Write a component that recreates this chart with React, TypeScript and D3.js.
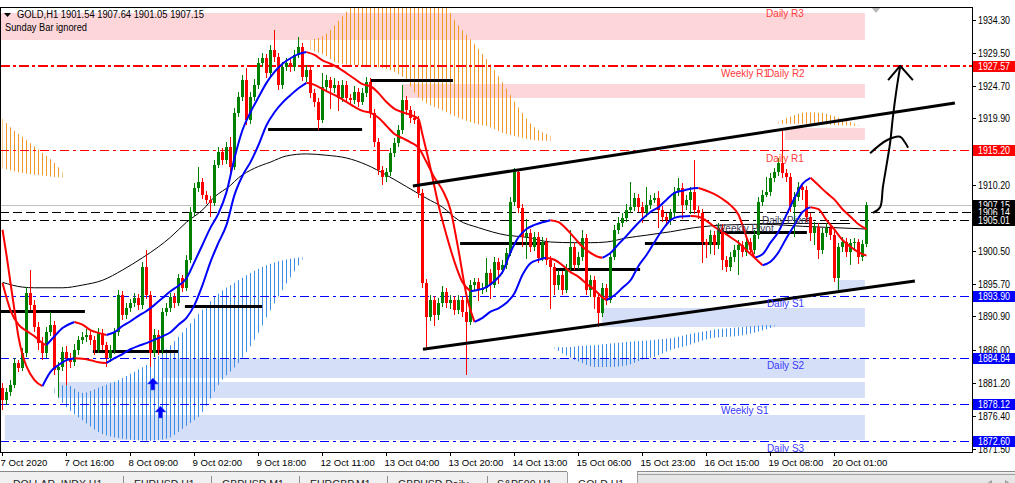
import React from "react";
import * as d3 from "d3";

// ---------------- data ----------------
const firstOpen = 1880.4;
const closes = [
  1878.7, 1879.8, 1880.9, 1884.1, 1883.4, 1885.5, 1894.3, 1892.6, 1889.4, 1887.0,
  1885.5, 1888.6, 1889.6, 1883.1, 1883.5, 1885.7, 1884.8, 1884.2, 1886.0, 1887.5,
  1887.9, 1888.2, 1887.5, 1886.0, 1888.5, 1886.7, 1884.8, 1886.0, 1888.6, 1894.0,
  1891.1, 1892.1, 1892.9, 1893.6, 1892.6, 1898.1, 1894.0, 1885.5, 1888.2, 1886.0,
  1891.5, 1892.1, 1893.7, 1892.9, 1896.5, 1895.1, 1899.2, 1906.2, 1909.7, 1910.6,
  1908.7, 1908.0, 1907.5, 1913.1, 1915.0, 1913.8, 1915.7, 1912.8, 1920.7, 1923.0,
  1925.5, 1919.7, 1923.0, 1924.8, 1928.0, 1928.7, 1926.5, 1929.9, 1928.9, 1924.8,
  1927.4, 1928.0, 1927.4, 1929.2, 1930.4, 1926.0, 1927.0, 1923.6, 1922.3, 1919.7,
  1924.5, 1925.5, 1924.3, 1924.8, 1922.9, 1924.8, 1922.9, 1922.6, 1923.8, 1922.3,
  1923.6, 1925.2, 1920.7, 1916.4, 1912.3, 1911.3, 1912.0, 1914.8, 1916.3, 1918.2,
  1922.6, 1921.1, 1920.0, 1919.7, 1909.0, 1895.8, 1890.8, 1893.3, 1891.1, 1892.9,
  1894.5, 1892.9, 1893.3, 1891.8, 1893.3, 1891.5, 1890.1, 1895.5, 1895.9, 1894.8,
  1895.1, 1897.3, 1895.5, 1898.9, 1897.7, 1898.4, 1900.2, 1907.7, 1912.0, 1906.8,
  1902.5, 1903.1, 1901.1, 1902.5, 1899.5, 1901.8, 1899.2, 1898.1, 1895.5, 1897.0,
  1894.8, 1898.0, 1901.1, 1898.4, 1899.6, 1902.4, 1894.8, 1896.2, 1893.7, 1891.4,
  1895.1, 1893.3, 1899.6, 1903.6, 1904.6, 1905.3, 1906.5, 1906.9, 1908.2, 1906.9,
  1906.0, 1907.2, 1908.0, 1908.2, 1906.5, 1905.5, 1905.0, 1906.0, 1909.1, 1909.7,
  1907.2, 1908.0, 1909.1, 1906.5, 1906.0, 1901.8, 1901.4, 1902.8, 1901.4, 1903.9,
  1899.2, 1898.1, 1899.6, 1900.6, 1901.4, 1900.3, 1901.8, 1900.6, 1902.8, 1907.7,
  1908.7, 1909.1, 1911.2, 1912.0, 1913.4, 1911.9, 1911.3, 1906.9, 1908.4, 1909.9,
  1909.4, 1905.5, 1903.1, 1904.0, 1900.6, 1903.1, 1903.9, 1902.8, 1896.5, 1901.0,
  1901.8, 1900.3, 1901.7, 1901.8, 1899.6, 1901.54, 1907.15,
];
const highs = [
  1881.2, 1880.4, 1881.6, 1884.8, 1884.6, 1886.3, 1895.2, 1897.7, 1893.3, 1890.1,
  1887.9, 1889.3, 1891.5, 1890.3, 1884.3, 1886.5, 1886.6, 1885.6, 1886.8, 1888.1,
  1888.6, 1889.0, 1888.8, 1888.0, 1889.2, 1889.0, 1887.2, 1886.7, 1889.2, 1894.8,
  1894.6, 1892.8, 1893.5, 1894.3, 1894.2, 1898.9, 1900.6, 1894.6, 1889.0, 1888.9,
  1892.2, 1892.8, 1894.3, 1894.3, 1897.1, 1897.0, 1899.9, 1906.9, 1910.4, 1912.8,
  1911.2, 1909.3, 1908.6, 1913.8, 1915.7, 1915.6, 1916.4, 1917.2, 1921.4, 1923.7,
  1926.2, 1927.3, 1923.7, 1925.6, 1928.7, 1929.4, 1929.3, 1930.6, 1932.8, 1929.5,
  1928.1, 1928.7, 1928.6, 1929.9, 1931.8, 1930.9, 1927.7, 1927.6, 1924.2, 1922.9,
  1926.5, 1926.2, 1926.0, 1925.8, 1925.4, 1925.5, 1925.3, 1923.5, 1924.6, 1924.3,
  1924.3, 1925.9, 1925.8, 1921.3, 1917.0, 1913.0, 1912.7, 1915.5, 1917.0, 1918.9,
  1924.8, 1923.2, 1921.7, 1921.0, 1920.3, 1909.5, 1896.4, 1894.0, 1893.9, 1893.6,
  1895.4, 1895.1, 1894.0, 1893.9, 1894.0, 1893.9, 1894.0, 1896.2, 1896.6, 1896.5,
  1895.8, 1899.4, 1897.9, 1899.6, 1899.5, 1899.2, 1900.9, 1908.4, 1912.6, 1912.4,
  1907.4, 1905.2, 1903.7, 1903.2, 1903.2, 1902.6, 1902.4, 1899.8, 1898.7, 1897.7,
  1897.6, 1898.6, 1903.6, 1901.7, 1900.3, 1903.5, 1903.0, 1896.9, 1896.8, 1894.3,
  1895.8, 1895.7, 1900.3, 1904.3, 1905.4, 1906.0, 1907.3, 1910.6, 1909.0, 1908.8,
  1907.6, 1909.8, 1908.7, 1909.0, 1909.2, 1907.1, 1906.0, 1906.7, 1909.8, 1911.2,
  1910.4, 1908.7, 1909.8, 1913.8, 1907.0, 1906.6, 1902.3, 1903.5, 1903.4, 1904.6,
  1904.5, 1899.8, 1900.3, 1901.3, 1902.1, 1902.0, 1902.5, 1902.4, 1903.5, 1908.4,
  1909.4, 1911.3, 1911.9, 1912.7, 1914.1, 1918.2, 1912.5, 1911.9, 1909.1, 1910.6,
  1910.5, 1910.0, 1906.1, 1904.7, 1904.6, 1903.8, 1904.6, 1904.5, 1903.4, 1901.7,
  1902.5, 1902.4, 1902.3, 1902.4, 1902.3, 1902.1, 1907.64,
];
const lows = [
  1877.2, 1878.0, 1879.3, 1880.5, 1882.7, 1882.9, 1885.0, 1891.8, 1888.6, 1886.0,
  1884.6, 1884.8, 1888.0, 1882.4, 1879.1, 1882.9, 1880.9, 1883.4, 1883.6, 1885.3,
  1886.9, 1887.2, 1886.7, 1885.2, 1885.6, 1886.0, 1883.5, 1884.2, 1885.4, 1888.0,
  1890.4, 1890.5, 1891.6, 1892.3, 1891.9, 1892.0, 1893.5, 1883.5, 1884.9, 1885.3,
  1885.4, 1890.9, 1891.6, 1892.2, 1892.4, 1894.5, 1894.7, 1898.7, 1905.6, 1909.1,
  1908.1, 1907.3, 1905.5, 1907.0, 1912.6, 1913.1, 1913.2, 1912.1, 1912.3, 1920.1,
  1922.5, 1918.9, 1919.1, 1922.4, 1924.2, 1927.4, 1925.8, 1926.0, 1928.2, 1924.0,
  1924.2, 1926.8, 1926.7, 1926.9, 1928.7, 1925.3, 1925.2, 1922.9, 1921.6, 1918.2,
  1919.2, 1923.9, 1921.3, 1923.6, 1921.0, 1922.3, 1922.2, 1921.9, 1922.0, 1921.6,
  1921.8, 1923.0, 1920.0, 1915.7, 1911.6, 1910.2, 1910.6, 1911.4, 1914.2, 1915.7,
  1917.6, 1920.4, 1919.2, 1919.1, 1908.3, 1895.0, 1886.3, 1890.2, 1889.5, 1890.4,
  1892.3, 1892.2, 1892.0, 1891.1, 1891.2, 1890.8, 1882.3, 1889.6, 1894.6, 1893.1,
  1894.2, 1894.5, 1893.4, 1895.0, 1895.6, 1897.1, 1897.8, 1899.7, 1907.1, 1906.1,
  1901.0, 1899.3, 1900.4, 1900.5, 1898.8, 1899.0, 1898.5, 1892.0, 1894.0, 1894.8,
  1894.1, 1894.3, 1897.5, 1897.7, 1897.9, 1899.0, 1894.1, 1893.7, 1892.0, 1889.4,
  1890.8, 1892.6, 1892.8, 1899.1, 1902.9, 1904.0, 1904.8, 1906.0, 1906.3, 1906.2,
  1904.6, 1905.4, 1906.6, 1907.5, 1903.9, 1904.8, 1904.2, 1904.3, 1905.4, 1908.5,
  1905.2, 1906.5, 1905.9, 1905.9, 1905.2, 1898.7, 1899.4, 1900.1, 1899.9, 1900.8,
  1897.7, 1897.4, 1897.5, 1898.9, 1897.0, 1899.6, 1899.7, 1899.9, 1900.0, 1902.2,
  1907.1, 1908.4, 1908.6, 1910.6, 1911.4, 1911.2, 1910.6, 1906.2, 1902.5, 1907.8,
  1908.0, 1904.8, 1901.9, 1901.4, 1899.3, 1900.0, 1902.5, 1902.1, 1896.0, 1894.8,
  1900.3, 1899.6, 1898.4, 1900.5, 1898.6, 1899.0, 1901.05,
];

const timeLabelBars = [0, 16, 32, 48, 64, 80, 96, 112, 128, 144, 160, 176, 192, 208];
const timeLabels = [
  "7 Oct 2020", "7 Oct 16:00", "8 Oct 09:00", "9 Oct 02:00", "9 Oct 18:00", "12 Oct 11:00",
  "13 Oct 04:00", "13 Oct 20:00", "14 Oct 13:00", "15 Oct 06:00", "15 Oct 23:00",
  "16 Oct 15:00", "19 Oct 08:00", "20 Oct 01:00",
];
const priceTicks = [1934.3, 1929.5, 1924.7, 1919.9, 1910.2, 1900.5, 1895.7, 1890.9, 1886.0, 1881.2, 1876.4, 1871.5];

// two slope-coloured moving averages [bar, price]
const maFast = [
  [0, 1895.8], [2, 1891.8], [4, 1889.7], [6, 1888.8], [8, 1888.0], [10, 1887.0], [11, 1886.7], [13, 1888.0],
  [15, 1889.2], [18, 1890.1], [20, 1889.7], [22, 1888.9], [24, 1888.5], [26, 1888.2], [28, 1888.6], [30, 1889.5],
  [32, 1890.2], [34, 1891.0], [36, 1891.7], [38, 1892.6], [40, 1893.6], [42, 1894.6], [44, 1895.4], [46, 1896.5],
  [48, 1898.9], [50, 1901.4], [52, 1903.9], [54, 1906.0], [56, 1909.1], [58, 1914.1], [60, 1918.2], [62, 1920.8],
  [64, 1923.0], [66, 1925.1], [68, 1926.7], [70, 1927.9], [72, 1928.7], [74, 1929.3], [76, 1929.6], [78, 1929.2],
  [80, 1928.4], [82, 1927.9], [84, 1927.3], [86, 1926.5], [88, 1925.7], [90, 1924.9], [92, 1924.6], [94, 1923.6],
  [96, 1922.3], [98, 1921.3], [100, 1920.8], [102, 1920.4], [104, 1919.8], [105, 1917.5], [107, 1912.6],
  [109, 1907.2], [111, 1902.8], [113, 1898.9], [115, 1895.9], [117, 1894.6], [119, 1894.8], [121, 1895.2],
  [123, 1896.1], [125, 1897.4], [127, 1900.3], [129, 1902.5], [131, 1903.7], [133, 1904.3], [135, 1904.7],
  [137, 1905.0], [139, 1904.7], [141, 1903.7], [143, 1902.4], [145, 1901.1], [147, 1900.2], [149, 1899.6],
  [150, 1899.5], [152, 1900.2], [154, 1901.5], [156, 1902.7], [158, 1904.0], [160, 1905.2], [162, 1906.2],
  [164, 1906.9], [166, 1908.0], [168, 1909.0], [170, 1909.3], [172, 1909.6], [174, 1909.7], [176, 1909.3],
  [178, 1908.8], [180, 1908.1], [182, 1907.2], [184, 1905.8], [186, 1902.5], [188, 1899.5], [190, 1900.0],
  [192, 1901.7], [194, 1903.3], [196, 1905.8], [198, 1908.2], [200, 1910.3], [202, 1911.2], [204, 1910.1],
  [206, 1909.0], [208, 1908.0], [210, 1906.6], [212, 1905.5], [214, 1904.4], [216, 1903.7],
];
const maSlow = [
  [0, 1903.6], [1, 1899.9], [2, 1895.8], [3, 1891.8], [4, 1887.9], [5, 1885.3], [6, 1883.6], [8, 1881.6],
  [10, 1880.7], [12, 1882.8], [14, 1883.8], [16, 1884.5], [18, 1884.8], [20, 1884.7], [22, 1884.5], [24, 1884.2],
  [26, 1884.1], [28, 1884.8], [30, 1885.4], [32, 1886.1], [34, 1886.6], [36, 1887.0], [38, 1887.5], [40, 1888.0],
  [42, 1888.6], [44, 1889.7], [46, 1890.7], [48, 1892.6], [50, 1895.5], [52, 1898.9], [54, 1901.7], [56, 1904.3],
  [58, 1908.7], [60, 1911.5], [62, 1913.5], [64, 1916.0], [66, 1918.9], [68, 1920.8], [70, 1922.2], [72, 1923.3],
  [74, 1924.3], [76, 1925.1], [78, 1924.8], [80, 1924.2], [82, 1923.6], [84, 1923.0], [86, 1922.3], [88, 1921.6],
  [90, 1921.0], [92, 1920.7], [94, 1920.0], [96, 1918.8], [98, 1917.6], [100, 1917.0], [102, 1916.4],
  [104, 1915.6], [106, 1913.5], [108, 1911.2], [110, 1909.4], [112, 1906.5], [114, 1900.6], [116, 1894.0],
  [118, 1890.1], [120, 1890.7], [122, 1891.6], [124, 1892.1], [126, 1892.9], [128, 1894.3], [130, 1897.0],
  [132, 1898.7], [134, 1899.2], [136, 1899.5], [138, 1899.2], [140, 1898.4], [142, 1897.4], [144, 1896.7],
  [146, 1895.7], [148, 1894.8], [150, 1893.7], [151, 1893.3], [153, 1894.0], [155, 1895.1], [157, 1896.2],
  [159, 1898.3], [161, 1899.9], [163, 1901.8], [165, 1903.6], [167, 1905.0], [169, 1905.5], [172, 1905.6],
  [174, 1905.5], [176, 1904.9], [178, 1904.0], [180, 1903.3], [182, 1902.5], [184, 1901.7], [186, 1900.6],
  [188, 1899.5], [190, 1898.4], [192, 1898.9], [194, 1900.3], [196, 1902.4], [198, 1904.3], [200, 1906.2],
  [202, 1906.9], [204, 1906.6], [206, 1905.0], [208, 1903.6], [210, 1902.1], [212, 1901.1], [214, 1900.3],
  [216, 1899.8],
];
const maLong = [
  [0, 1895.9], [5, 1895.2], [8, 1895.1], [15, 1895.1], [20, 1895.5], [25, 1896.2], [30, 1897.7], [35, 1899.5],
  [39, 1901.1], [42, 1902.5], [46, 1904.7], [50, 1906.5], [53, 1908.4], [57, 1910.1], [59, 1911.2], [63, 1912.6],
  [67, 1913.5], [71, 1914.4], [76, 1914.7], [81, 1914.5], [86, 1914.1], [91, 1913.1], [96, 1911.6], [101, 1909.9],
  [106, 1908.2], [110, 1906.9], [114, 1905.0], [119, 1903.9], [126, 1902.8], [131, 1902.5], [137, 1901.8],
  [143, 1901.7], [147, 1901.7], [151, 1901.8], [156, 1902.4], [161, 1902.8], [167, 1903.3], [173, 1903.9],
  [181, 1904.3], [190, 1904.4], [200, 1904.1], [216, 1903.7],
];

// hatched clouds [bar, top price, bottom price]
const cloudOrange1 = [[0, 1919.9, 1912.6], [2, 1918.6, 1912.3], [5, 1917.2, 1911.9], [9, 1915.3, 1911.6], [13, 1913.4, 1911.3], [15, 1912.0, 1911.2]];
const cloudOrange2 = [
  [77, 1931.4, 1929.9], [81, 1932.3, 1929.0], [83, 1933.5, 1928.2], [86, 1935.5, 1927.8], [88, 1936.4, 1927.7],
  [94, 1936.4, 1927.4], [100, 1936.4, 1926.0], [104, 1936.4, 1923.0], [110, 1936.4, 1921.1], [114, 1933.5, 1920.0],
  [118, 1930.8, 1919.2], [122, 1927.8, 1918.6], [125, 1925.2, 1917.8], [129, 1921.5, 1917.2], [133, 1918.6, 1916.7],
  [137, 1917.4, 1916.6],
];
const cloudOrange3 = [[194, 1919.4, 1919.1], [198, 1920.4, 1919.1], [201, 1920.8, 1919.1], [205, 1920.7, 1919.0], [209, 1920.0, 1918.9], [214, 1918.9, 1918.8]];
const cloudBlue1 = [
  [13, 1880.4, 1879.7], [16, 1880.9, 1877.6], [20, 1879.7, 1875.7], [24.5, 1880.6, 1873.8], [29, 1881.6, 1873.1],
  [33, 1882.8, 1872.8], [37, 1884.2, 1872.7], [41.5, 1886.4, 1873.1], [45.5, 1888.9, 1874.7], [49.5, 1891.6, 1876.5],
  [54.5, 1894.5, 1881.3], [59, 1896.2, 1884.1], [63, 1897.6, 1887.5], [67, 1898.6, 1891.8], [71.5, 1899.3, 1896.2],
  [75, 1899.6, 1899.2],
];
const cloudBlue2 = [
  [138, 1886.4, 1886.2], [141.5, 1886.4, 1885.0], [144.5, 1886.6, 1884.2], [148, 1886.7, 1883.5], [151.5, 1886.9, 1883.5],
  [156.5, 1887.2, 1883.8], [159.5, 1887.3, 1884.5], [163, 1887.5, 1885.0], [167, 1887.7, 1886.0], [171.5, 1888.3, 1886.7],
  [177, 1888.9, 1887.7], [185.5, 1889.4, 1888.2], [193, 1889.7, 1889.4],
];

// pivot zones [start bar, end bar, top, bottom, kind]
const zones = [
  [-1, 215.6, 1935.3, 1931.4, "r"], [100.0, 215.6, 1924.9, 1922.9, "r"], [195.6, 215.6, 1918.5, 1916.7, "r"],
  [208.6, 215.6, 1896.2, 1894.8, "s"], [149.9, 215.6, 1892.1, 1889.4, "s"], [39.9, 215.6, 1884.8, 1881.9, "s"],
  [13.9, 215.6, 1881.3, 1879.0, "s"], [0.6, 215.6, 1876.5, 1872.8, "s"],
];
const pivotLevels = [1927.57, 1915.20, 1906.14, 1905.01, 1893.90, 1884.84, 1878.12, 1872.60];
const pivotKinds = ["r2", "r", "dash", "dashdot", "s", "s", "s", "s"];
const bidPrice = 1907.15;
const pivotTexts = [
  [190.9, 1934.74, "Daily R3", "r"], [179.6, 1925.96, "Weekly R1", "r"], [191.1, 1925.96, "Daily R2", "r"],
  [190.9, 1913.5, "Daily R1", "r"], [189.9, 1904.4, "Daily Pivot", "p"], [178.4, 1903.26, "Weekly Pivot", "p"],
  [191.1, 1892.3, "Daily S1", "s"], [191.1, 1883.2, "Daily S2", "s"], [179.6, 1876.6, "Weekly S1", "s"],
  [191.1, 1871.05, "Daily S3", "s"],
];
const boxLevels = [1927.57, 1915.20, 1907.15, 1906.14, 1905.01, 1893.90, 1884.84, 1878.12, 1872.60];
const boxKinds = ["r", "r", "k", "k", "k", "s", "s", "s", "s"];

// drawn objects
const srSegments = [
  [-0.6, 20.6, 1891.7, 3], [22.6, 43.9, 1885.8, 3], [45.6, 64.9, 1892.4, 3], [66.4, 89.9, 1918.3, 3],
  [91.9, 112.6, 1925.5, 3], [114.4, 135.6, 1901.6, 3], [137.6, 159.4, 1897.9, 3], [160.6, 179.4, 1901.6, 3],
  [178.6, 201.1, 1903.3, 3], [189.4, 211.9, 1904.6, 1],
];
const trendLines = [
  [[102.6, 1910.0], [238.1, 1922.15]],
  [[105.1, 1886.1], [228.1, 1896.1]],
];
const sketchUp = [[217.6, 1906.05], [219.4, 1906.9], [220.1, 1909.85], [221.9, 1916.3], [222.6, 1920.1], [223.6, 1924.5], [224.4, 1927.4]];
const sketchHead = [[221.4, 1925.5], [224.4, 1927.6], [227.6, 1925.5]];
const sketchHook = [[216.9, 1914.8], [221.1, 1916.7], [224.4, 1917.2], [225.6, 1916.4], [226.4, 1915.6]];
const signalArrows = [[37.6, 1881.9], [39.5, 1877.8]];

const headerText = "GOLD,H1  1901.54 1907.64 1901.05 1907.15";
const tabLabels = ["DOLLAR_INDX,H1", "EURUSD,H1", "GBPUSD,M1", "EURGBP,M1", "GBPUSD,Daily", "S&P500,H1", "GOLD,H1"];

// ---------------- layout ----------------
const W = 1015;
const H = 483;
const PR = 972; // plot right (axis line)
const PT = 7;
const PB = 452;
const FONT = "'Liberation Sans', Arial, sans-serif";
const RED = "#ff0000";
const BLUE = "#0000ff";
const BULL = "#008000";

export default function App() {
  const xs = d3.scaleLinear().domain([0, 216]).range([2.5, 866.5]);
  const ys = d3.scaleLinear().domain([1871.5, 1934.3]).range([449, 20]);
  const py = (p: number) => Math.round(ys(p)) + 0.5;

  const candles = closes.map((c, i) => {
    const o = i === 0 ? firstOpen : closes[i - 1];
    return { i, o, c, h: Math.max(highs[i], o, c), l: Math.min(lows[i], o, c) };
  });

  const lineGen = d3.line<number[]>().x((d) => xs(d[0])).y((d) => ys(d[1])).curve(d3.curveMonotoneX);
  const areaGen = d3
    .area<number[]>()
    .x((d) => xs(d[0]))
    .y0((d) => ys(d[2]))
    .y1((d) => ys(d[1]))
    .curve(d3.curveMonotoneX);
  const sketchGen = d3.line<number[]>().x((d) => xs(d[0])).y((d) => ys(d[1])).curve(d3.curveCatmullRom);
  const straight = d3.line<number[]>().x((d) => xs(d[0])).y((d) => ys(d[1]));

  const runs = (pts: number[][]) => {
    const out: { up: boolean; pts: number[][] }[] = [];
    for (let k = 1; k < pts.length; k++) {
      const up = pts[k][1] >= pts[k - 1][1];
      const last = out[out.length - 1];
      if (last && last.up === up) last.pts.push(pts[k]);
      else out.push({ up, pts: [pts[k - 1], pts[k]] });
    }
    return out;
  };

  const zoneFill = (k: string) => (k === "r" ? "#fdd6da" : "#d5dff7");
  const textColor = (k: string) => (k === "r" ? "#ff3b3b" : k === "s" ? "#3a3aff" : "#3a3a55");

  const pivotStyle = (k: string) => {
    if (k === "r2") return { stroke: RED, w: 2, dash: "10,3,3,3" };
    if (k === "r") return { stroke: RED, w: 1, dash: "9,4,3,4" };
    if (k === "dash") return { stroke: "#000", w: 1, dash: "9,4" };
    if (k === "dashdot") return { stroke: "#000", w: 1, dash: "9,4,3,4" };
    return { stroke: BLUE, w: 1, dash: "9,4,3,4" };
  };
  const boxFill = (k: string) => (k === "r" ? RED : k === "s" ? BLUE : "#000");

  const tabX = [13, 134, 222, 310, 398, 497, 578];
  const sepX = [123, 211, 299, 387, 487];

  return (
    <svg
      width={W}
      height={H}
      viewBox={`0 0 ${W} ${H}`}
      style={{ position: "absolute", left: 0, top: 0, display: "block", background: "#fff" }}
      fontFamily={FONT}
    >
      <defs>
        <clipPath id="plotClip">
          <rect x={0} y={PT} width={PR} height={PB - PT} />
        </clipPath>
        <pattern id="hatchO" patternUnits="userSpaceOnUse" x={0} y={0} width={4} height={4}>
          <rect x={2} y={0} width={1} height={4} fill="#f29a26" />
        </pattern>
        <pattern id="hatchB" patternUnits="userSpaceOnUse" x={0} y={0} width={4} height={4}>
          <rect x={2} y={0} width={1} height={4} fill="#3d8de6" />
        </pattern>
      </defs>
      <rect x={0} y={0} width={W} height={H} fill="#fff" />

      <g clipPath="url(#plotClip)">
        {/* pivot zones */}
        {zones.map((z, k) => {
          const x0 = xs(z[0] as number);
          const x1 = xs(z[1] as number);
          const y0 = Math.round(ys(z[2] as number));
          const y1 = Math.round(ys(z[3] as number));
          return <rect key={"z" + k} x={x0} y={y0} width={x1 - x0} height={y1 - y0} fill={zoneFill(z[4] as string)} />;
        })}

        {/* hatched clouds */}
        {[cloudOrange1, cloudOrange2, cloudOrange3].map((c, k) => (
          <path key={"co" + k} d={areaGen(c) || ""} fill="url(#hatchO)" />
        ))}
        {[cloudBlue1, cloudBlue2].map((c, k) => (
          <path key={"cb" + k} d={areaGen(c) || ""} fill="url(#hatchB)" />
        ))}

        {/* bid line */}
        <line x1={0} x2={PR} y1={py(bidPrice)} y2={py(bidPrice)} stroke="#c0c0c0" strokeWidth={1} />

        {/* pivot lines */}
        {pivotLevels.map((p, k) => {
          const s = pivotStyle(pivotKinds[k]);
          const y = s.w === 2 ? Math.round(ys(p)) : py(p);
          return (
            <line key={"pl" + k} x1={0} x2={PR} y1={y} y2={y} stroke={s.stroke} strokeWidth={s.w} strokeDasharray={s.dash} />
          );
        })}

        {/* long MA */}
        <path d={lineGen(maLong) || ""} fill="none" stroke="#000" strokeWidth={1} />

        {/* horizontal S/R segments */}
        {srSegments.map((s, k) => (
          <line
            key={"sr" + k}
            x1={xs(s[0])}
            x2={xs(s[1])}
            y1={s[3] === 3 ? Math.round(ys(s[2])) + 0.5 : py(s[2])}
            y2={s[3] === 3 ? Math.round(ys(s[2])) + 0.5 : py(s[2])}
            stroke="#000"
            strokeWidth={s[3]}
          />
        ))}

        {/* candles */}
        {candles.map((d) => {
          const cx = Math.round(xs(d.i) - 0.5);
          const col = d.c >= d.o ? BULL : RED;
          const yh = Math.round(ys(d.h));
          const yl = Math.round(ys(d.l));
          const yo = Math.round(ys(d.o));
          const yc = Math.round(ys(d.c));
          const top = Math.min(yo, yc);
          const bh = Math.max(1, Math.abs(yo - yc));
          return (
            <g key={"c" + d.i}>
              <rect x={cx} y={yh} width={1} height={Math.max(1, yl - yh)} fill={col} />
              <rect x={cx - 1} y={top} width={3} height={bh} fill={col} />
            </g>
          );
        })}

        {/* slope-coloured MAs */}
        {[maFast, maSlow].map((ma, m) =>
          runs(ma).map((r, k) => (
            <path
              key={"ma" + m + "-" + k}
              d={lineGen(r.pts) || ""}
              fill="none"
              stroke={r.up ? BLUE : RED}
              strokeWidth={2}
              strokeLinejoin="round"
            />
          ))
        )}

        {/* channel trend lines */}
        {trendLines.map((t, k) => (
          <path key={"tl" + k} d={straight(t) || ""} stroke="#000" strokeWidth={3} fill="none" />
        ))}

        {/* hand-drawn arrow */}
        <path d={sketchGen(sketchUp) || ""} stroke="#000" strokeWidth={2} fill="none" />
        <path d={straight(sketchHead) || ""} stroke="#000" strokeWidth={2} fill="none" strokeLinejoin="round" />
        <path d={sketchGen(sketchHook) || ""} stroke="#000" strokeWidth={2} fill="none" />

        {/* buy arrows */}
        {signalArrows.map((a, k) => {
          const x = xs(a[0]);
          const y = ys(a[1]);
          return (
            <path
              key={"ar" + k}
              transform={`translate(${x},${y})`}
              d="M0,0 L5.5,6 L2,6 L2,12 L-2,12 L-2,6 L-5.5,6 Z"
              fill={BLUE}
              stroke="#4a6ff0"
              strokeWidth={0.6}
            />
          );
        })}

        {/* pivot labels */}
        {pivotTexts.map((t, k) => (
          <text key={"pt" + k} x={xs(t[0] as number)} y={ys(t[1] as number)} fontSize={10} fill={textColor(t[3] as string)}>
            {t[2]}
          </text>
        ))}

        {/* chart shift marker */}
        <path d="M871,7 L881,7 L876,13 Z" fill="#b8b8b8" />
      </g>

      {/* frame */}
      <line x1={0} x2={PR} y1={PT + 0.5} y2={PT + 0.5} stroke="#000" />
      <line x1={0.5} x2={0.5} y1={PT} y2={PB} stroke="#000" />
      <line x1={PR + 0.5} x2={PR + 0.5} y1={PT} y2={PB + 1} stroke="#000" />
      <line x1={0} x2={PR + 1} y1={PB + 0.5} y2={PB + 0.5} stroke="#000" />

      {/* price axis */}
      {priceTicks.map((p, k) => {
        const y = py(p);
        return (
          <g key={"tk" + k}>
            <line x1={PR} x2={PR + 4} y1={y} y2={y} stroke="#000" />
            <text x={978} y={Math.round(ys(p)) + 4} fontSize={10} textLength={32} lengthAdjust="spacingAndGlyphs" fill="#000">
              {p.toFixed(2)}
            </text>
          </g>
        );
      })}
      {boxLevels.map((p, k) => {
        const y = Math.round(ys(p));
        return (
          <g key={"bx" + k}>
            <rect x={PR + 1} y={y - 5} width={W - PR - 1} height={11} fill={boxFill(boxKinds[k])} />
            <text x={978} y={y + 4} fontSize={10} textLength={32} lengthAdjust="spacingAndGlyphs" fill="#fff">
              {p.toFixed(2)}
            </text>
          </g>
        );
      })}

      {/* time axis */}
      {timeLabelBars.map((b, k) => {
        const x = Math.round(xs(b) - 0.5) + 0.5;
        return (
          <g key={"tm" + k}>
            <line x1={x} x2={x} y1={PB} y2={PB + 4} stroke="#000" />
            <text x={x - 2} y={466} fontSize={9.6} fill="#000">
              {timeLabels[k]}
            </text>
          </g>
        );
      })}

      {/* header */}
      <path d="M4,13 L11,13 L7.5,17 Z" fill="#000" />
      <text x={17} y={18} fontSize={10} textLength={187} lengthAdjust="spacingAndGlyphs" fill="#000">
        {headerText}
      </text>
      <text x={5} y={31} fontSize={10} textLength={82} lengthAdjust="spacingAndGlyphs" fill="#000">
        Sunday Bar ignored
      </text>

      {/* tab bar */}
      <rect x={0} y={471} width={W} height={H - 471} fill="#f0f0f0" />
      <line x1={0} x2={W} y1={471.5} y2={471.5} stroke="#8a8a8a" />
      <rect x={637} y={473} width={W - 637} height={H - 473} fill="#e6e6e6" />
      <line x1={637} x2={W} y1={474.5} y2={474.5} stroke="#a0a0a0" />
      <rect x={567} y={471} width={70} height={H - 471} fill="#fff" />
      <line x1={567.5} x2={567.5} y1={472} y2={H} stroke="#a0a0a0" />
      <line x1={637.5} x2={637.5} y1={472} y2={H} stroke="#a0a0a0" />
      {sepX.map((x, k) => (
        <line key={"sp" + k} x1={x + 0.5} x2={x + 0.5} y1={476} y2={H} stroke="#909090" />
      ))}
      {tabLabels.map((t, k) => (
        <text key={"tb" + k} x={tabX[k]} y={488} fontSize={10.5} fill="#222">
          {t}
        </text>
      ))}
      <path d="M992,480 L988,482.5 L992,485 Z" fill="#a0a0a0" />
      <path d="M1005,480 L1009,482.5 L1005,485 Z" fill="#a0a0a0" />
    </svg>
  );
}
